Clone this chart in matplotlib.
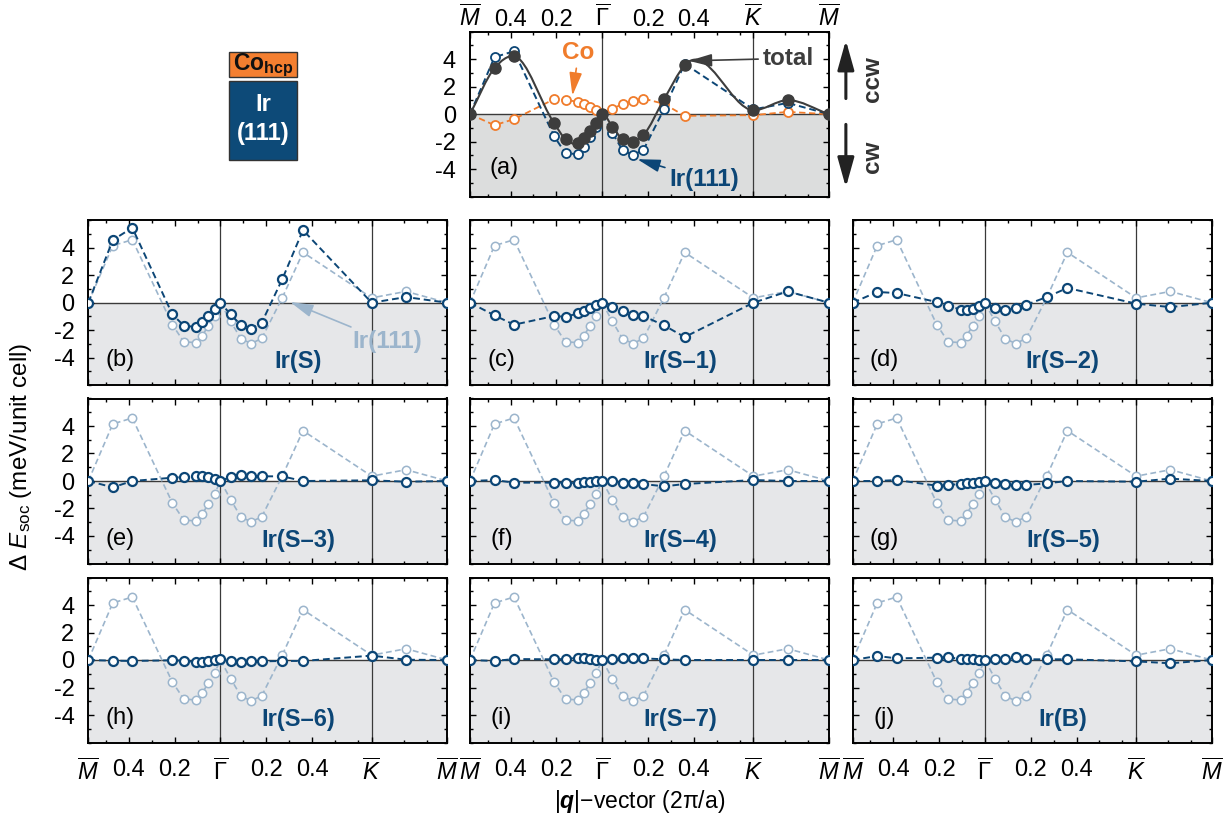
import numpy as np
import matplotlib
matplotlib.use('Agg')
import matplotlib.pyplot as plt
from matplotlib.path import Path
from matplotlib.patches import PathPatch, Rectangle
from matplotlib.ticker import MultipleLocator, FixedLocator

plt.rcParams['font.family'] = ['Liberation Sans', 'DejaVu Sans']
plt.rcParams['mathtext.fontset'] = 'custom'
plt.rcParams['mathtext.rm'] = 'Liberation Sans'
plt.rcParams['mathtext.it'] = 'Liberation Sans:italic'
plt.rcParams['mathtext.bf'] = 'Liberation Sans:bold'
if 'mathtext.bfit' in plt.rcParams:
    plt.rcParams['mathtext.bfit'] = 'Liberation Sans:italic:bold'
plt.rcParams['axes.unicode_minus'] = False

# high-symmetry points along M - Gamma - K - M (units of 2pi/a)
M_LEFT, GAMMA, K_PT, M_RIGHT = -0.577, 0.0, 0.66, 0.99

# spiral wave vectors
q = [-0.577, -0.47, -0.385, -0.21, -0.16, -0.105, -0.08, -0.053, -0.026, 0.0,
     0.044, 0.089, 0.134, 0.18, 0.27, 0.36, 0.66, 0.81, 0.99]

# SOC energy (meV/unit cell)
ir111 = [0, 4.15, 4.58, -1.6, -2.85, -2.9, -2.4, -1.68, -0.95, 0,
         -1.35, -2.62, -2.97, -2.6, 0.37, 3.66, 0.35, 0.82, 0]
co = [0, -0.8, -0.36, 1.09, 1.04, 0.9, 0.73, 0.53, 0.31, 0,
      0.41, 0.73, 0.97, 1.14, 0.75, -0.12, -0.07, 0.17, 0]
total = [0, 3.35, 4.22, -0.65, -1.82, -2.1, -1.75, -1.2, -0.65, 0,
         -0.9, -1.82, -1.99, -1.5, 1.09, 3.56, 0.29, 1.02, 0]

layer_names = ['Ir(S)', 'Ir(S\u20131)', 'Ir(S\u20132)', 'Ir(S\u20133)', 'Ir(S\u20134)',
               'Ir(S\u20135)', 'Ir(S\u20136)', 'Ir(S\u20137)', 'Ir(B)']
panel_tags = ['(b)', '(c)', '(d)', '(e)', '(f)', '(g)', '(h)', '(i)', '(j)']
layers = [
    [0, 4.56, 5.45, -0.85, -1.67, -1.77, -1.43, -1.0, -0.48, 0,
     -0.85, -1.62, -1.89, -1.45, 1.72, 5.28, 0, 0.41, 0],
    [0, -0.92, -1.6, -0.97, -1.02, -0.78, -0.6, -0.39, -0.19, 0,
     -0.32, -0.63, -0.92, -0.97, -1.65, -2.5, 0, 0.82, 0],
    [0, 0.78, 0.7, 0.05, -0.24, -0.5, -0.5, -0.46, -0.27, 0,
     -0.39, -0.56, -0.39, -0.15, 0.41, 1.07, -0.07, -0.32, 0],
    [0, -0.46, 0, 0.24, 0.29, 0.39, 0.39, 0.29, 0.15, 0,
     0.29, 0.44, 0.39, 0.34, 0.34, 0, 0.05, -0.05, 0],
    [0, 0.07, -0.12, -0.12, -0.12, -0.17, -0.1, -0.05, 0, 0,
     0, -0.12, -0.12, -0.22, -0.39, -0.22, 0.07, 0, 0],
    [0, 0, 0.07, -0.34, -0.29, -0.22, -0.17, -0.12, -0.05, 0,
     -0.12, -0.22, -0.29, -0.29, -0.17, 0, -0.05, 0.17, 0],
    [0, -0.05, -0.07, -0.02, -0.05, -0.15, -0.15, -0.1, -0.02, 0.05,
     -0.1, -0.15, -0.1, -0.1, -0.07, -0.07, 0.32, 0.02, 0],
    [0, -0.07, 0.07, 0.05, 0.07, 0.17, 0.12, 0.07, 0, 0,
     0.07, 0.12, 0.12, 0.12, 0.05, 0, 0, 0, 0],
    [0, 0.29, 0.12, 0.17, 0.22, 0.05, 0.05, 0.05, 0, 0,
     0.05, 0.07, 0.19, 0.05, 0.05, 0.05, -0.1, -0.24, 0],
]

xtick_pos = [M_LEFT, -0.4, -0.2, GAMMA, 0.2, 0.4, K_PT, M_RIGHT]
xtick_labels = [r'$\overline{M}$', '0.4', '0.2', r'$\overline{\mathit{Γ}}$',
                '0.2', '0.4', r'$\overline{K}$', r'$\overline{M}$']
x_minor = [-0.5, -0.3, -0.1, 0.1, 0.3, 0.5, 0.6, 0.8, 0.9]

DARK = '#0c4676'
LIGHT = '#9cb5cc'
ORANGE = '#f07c2c'
GREY = '#3d3d3d'
FS = 17

W, H = 1224, 821
fig = plt.figure(figsize=(W / 100, H / 100), dpi=100)


def px_axes(x0, y0, x1, y1):
    return fig.add_axes([x0 / W, 1 - y1 / H, (x1 - x0) / W, (y1 - y0) / H])


def style(ax, shade):
    ax.set_xlim(M_LEFT, M_RIGHT)
    ax.set_ylim(-6, 6)
    ax.axhspan(-6, 0, facecolor=shade, lw=0, zorder=0)
    for xv in (GAMMA, K_PT):
        ax.axvline(xv, color='#3a3a3a', lw=0.9, zorder=1)
    ax.axhline(0, color='#3a3a3a', lw=1.0, zorder=1)
    ax.xaxis.set_major_locator(FixedLocator(xtick_pos))
    ax.xaxis.set_minor_locator(FixedLocator(x_minor))
    ax.set_xticklabels(xtick_labels)
    ax.yaxis.set_major_locator(FixedLocator([-4, -2, 0, 2, 4]))
    ax.yaxis.set_minor_locator(MultipleLocator(1))
    ax.tick_params(direction='in', which='both', top=True, right=True,
                   labelsize=FS, width=1.0)
    ax.tick_params(which='major', length=4.5)
    ax.tick_params(axis='y', which='major', pad=10)
    ax.tick_params(axis='x', which='major', pad=12)
    ax.tick_params(which='minor', length=2.5)
    for s in ax.spines.values():
        s.set_linewidth(1.4)


def smooth_path(x, y):
    # piecewise cubic Hermite through the points, as Bezier segments
    x = np.asarray(x, float)
    y = np.asarray(y, float)
    h = np.diff(x)
    d = np.diff(y) / h
    m = np.empty_like(y)
    m[0], m[-1] = d[0], d[-1]
    m[1:-1] = (d[:-1] * h[1:] + d[1:] * h[:-1]) / (h[:-1] + h[1:])
    verts = [(x[0], y[0])]
    codes = [Path.MOVETO]
    for i in range(len(h)):
        verts += [(x[i] + h[i] / 3, y[i] + m[i] * h[i] / 3),
                  (x[i + 1] - h[i] / 3, y[i + 1] - m[i + 1] * h[i] / 3),
                  (x[i + 1], y[i + 1])]
        codes += [Path.CURVE4] * 3
    return Path(verts, codes)


# ---- panel (a): Co/Ir(111) total
ax = px_axes(470, 31.7, 829, 196.7)
style(ax, '#dcdddd')
ax.tick_params(labelbottom=False, labeltop=True)
ax.tick_params(axis='x', which='major', pad=0.5)
ax.plot(q, co, ls=(0, (3.5, 2)), color=ORANGE, lw=1.3, marker='o', ms=6.5,
        mfc='white', mec=ORANGE, mew=1.3, zorder=3)
ax.plot(q, ir111, ls=(0, (3.5, 2)), color=DARK, lw=1.4, marker='o', ms=6.5,
        mfc='white', mec=DARK, mew=1.3, zorder=4)
ax.add_patch(PathPatch(smooth_path(q, total), facecolor='none', edgecolor=GREY,
                       lw=1.5, zorder=5))
ax.plot(q, total, ls='none', marker='o', ms=8, mfc=GREY, mec=GREY, zorder=6)
ax.text(-0.43, -3.9, '(a)', fontsize=FS, ha='center', va='center')
arrow = dict(arrowstyle='-|>,head_length=0.8,head_width=0.22', lw=1.2)
ax.annotate('Co', xy=(-0.13, 1.35), xytext=(-0.103, 4.48), ha='center', va='center',
            fontsize=17.5, fontweight='bold', color=ORANGE,
            arrowprops=dict(arrow, color=ORANGE, shrinkA=1, shrinkB=0), zorder=7)
ax.annotate('total', xy=(0.378, 3.88), xytext=(0.811, 4.06), ha='center', va='center',
            fontsize=17.5, fontweight='bold', color=GREY,
            arrowprops=dict(arrow, color=GREY, shrinkA=1, shrinkB=0), zorder=7)
ax.annotate('Ir(111)', xy=(0.153, -3.27), xytext=(0.444, -4.73), ha='center', va='center',
            fontsize=17.5, fontweight='bold', color=DARK,
            arrowprops=dict(arrow, color=DARK, shrinkA=1, shrinkB=0), zorder=7)

# chirality arrows at the right of panel (a)
big = dict(arrowstyle='-|>,head_length=1.0,head_width=0.28', lw=2.2, color='#222222',
           mutation_scale=18)
ax.annotate('', xy=(1.047, 0.965), xytext=(1.047, 0.578), xycoords='axes fraction',
            arrowprops=big, annotation_clip=False)
ax.annotate('', xy=(1.047, 0.04), xytext=(1.047, 0.455), xycoords='axes fraction',
            arrowprops=big, annotation_clip=False)
ax.text(1.121, 0.713, 'ccw', transform=ax.transAxes, rotation=90, ha='center',
        va='center', fontsize=17.5, fontweight='bold', color='#333333')
ax.text(1.121, 0.242, 'cw', transform=ax.transAxes, rotation=90, ha='center',
        va='center', fontsize=17.5, fontweight='bold', color='#333333')

# ---- layer-resolved panels (b)-(j)
cols = [(88.3, 447.3), (470, 829), (852.7, 1211.7)]
rows = [(220.2, 385.2), (398.5, 563.5), (577.5, 742.5)]
for k, vals in enumerate(layers):
    r, c = divmod(k, 3)
    ax = px_axes(cols[c][0], rows[r][0], cols[c][1], rows[r][1])
    style(ax, '#e6e7e9')
    ax.tick_params(labelbottom=(r == 2), labelleft=(c == 0))
    ax.plot(q, ir111, ls=(0, (3.5, 2)), color=LIGHT, lw=1.2, marker='o', ms=6,
            mfc='white', mec=LIGHT, mew=1.1, zorder=3)
    ax.plot(q, vals, ls=(0, (3.5, 2)), color=DARK, lw=1.4, marker='o', ms=6.5,
            mfc='white', mec=DARK, mew=1.6, zorder=4)
    ax.text(-0.44, -4.2, panel_tags[k], fontsize=FS, ha='center', va='center')
    ax.text(0.34, -4.3, layer_names[k], fontsize=FS, fontweight='bold', color=DARK,
            ha='center', va='center')
    if k == 0:
        ax.annotate('Ir(111)', xy=(0.304, 0.05), xytext=(0.727, -2.84), ha='center',
                    va='center', fontsize=17.5, fontweight='bold', color=LIGHT,
                    arrowprops=dict(arrow, color=LIGHT, shrinkA=1, shrinkB=0), zorder=7)

# axis titles
fig.text(21 / W, 1 - 457 / H, r'$\Delta\ E_{\mathrm{soc}}$ (meV/unit cell)', rotation=90,
         ha='center', va='center', fontsize=17.5)
fig.text(640 / W, 1 - 801 / H, r'|$\mathbfit{q}$|$-$vector (2π/a)', ha='center',
         va='center', fontsize=16.5)

# stacking sketch: Co hcp on Ir(111)
fig.add_artist(Rectangle((229.3 / W, 1 - 77.3 / H), 68 / W, 25.6 / H,
                         transform=fig.transFigure, facecolor='#f47f30',
                         edgecolor='#333333', lw=1.0))
fig.add_artist(Rectangle((229.3 / W, 1 - 160 / H), 68 / W, 79 / H,
                         transform=fig.transFigure, facecolor='#0d4a78',
                         edgecolor='#333333', lw=1.0))
fig.text(263 / W, 1 - 65 / H, r'Co$_{\mathbf{hcp}}$', ha='center', va='center',
         fontsize=16.5, fontweight='bold', color='#111111')
fig.text(263 / W, 1 - 119 / H, 'Ir\n(111)', ha='center', va='center', fontsize=17,
         fontweight='bold', color='white', linespacing=1.3)

fig.savefig('out.png', dpi=100)
